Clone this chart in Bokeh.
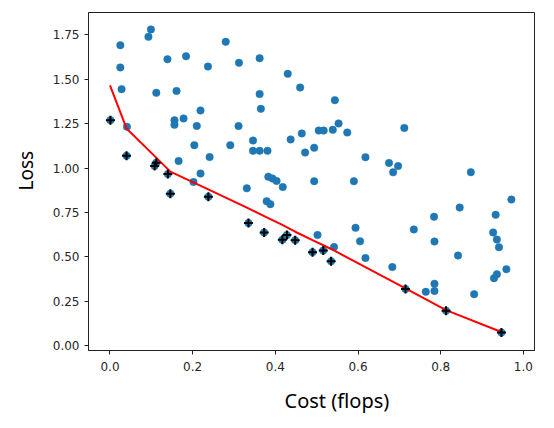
import numpy as np
from bokeh.plotting import figure
from bokeh.models import Range1d, FixedTicker, Title
from bokeh.embed import file_html
from bokeh.resources import INLINE

# all candidate models (cost, loss)
cost = [0.099, 0.093, 0.025, 0.025, 0.028, 0.041, 0.139, 0.184, 0.112, 0.161,
        0.237, 0.280, 0.312, 0.362, 0.430, 0.460, 0.362, 0.365, 0.219, 0.156,
        0.156, 0.178, 0.210, 0.311, 0.204, 0.291, 0.346, 0.346, 0.362, 0.381,
        0.437, 0.464, 0.494, 0.472, 0.241, 0.166, 0.219, 0.202, 0.383, 0.393,
        0.403, 0.418, 0.331, 0.494, 0.544, 0.553, 0.505, 0.517, 0.539, 0.574,
        0.712, 0.618, 0.675, 0.697, 0.685, 0.873, 0.590, 0.379, 0.388, 0.971,
        0.846, 0.933, 0.784, 0.735, 0.594, 0.502, 0.605, 0.785, 0.927, 0.936,
        0.941, 0.542, 0.618, 0.683, 0.842, 0.959, 0.936, 0.929, 0.785, 0.785,
        0.764, 0.881]
loss = [1.780, 1.738, 1.691, 1.566, 1.444, 1.232, 1.612, 1.629, 1.423, 1.434,
        1.571, 1.710, 1.592, 1.618, 1.530, 1.453, 1.416, 1.333, 1.324, 1.269,
        1.243, 1.279, 1.237, 1.236, 1.129, 1.129, 1.155, 1.097, 1.097, 1.097,
        1.161, 1.195, 1.114, 1.087, 1.062, 1.040, 0.969, 0.922, 0.951, 0.941,
        0.928, 0.893, 0.886, 0.926, 1.382, 1.251, 1.211, 1.211, 1.215, 1.200,
        1.226, 1.061, 1.029, 1.011, 0.976, 0.977, 0.926, 0.814, 0.797, 0.823,
        0.778, 0.737, 0.726, 0.655, 0.664, 0.624, 0.588, 0.587, 0.638, 0.598,
        0.555, 0.556, 0.494, 0.443, 0.508, 0.431, 0.403, 0.381, 0.349, 0.309,
        0.304, 0.291]

# pareto-optimal models (marked with a cross)
pareto_cost = [0.001, 0.040, 0.112, 0.108, 0.140, 0.146, 0.238, 0.335, 0.373,
               0.417, 0.428, 0.448, 0.490, 0.516, 0.535, 0.715, 0.813, 0.947]
pareto_loss = [1.269, 1.069, 1.030, 1.012, 0.966, 0.856, 0.839, 0.691, 0.638,
               0.597, 0.623, 0.594, 0.527, 0.536, 0.476, 0.320, 0.198, 0.075]

# fitted frontier (red)
fit_cost = [0.000, 0.040, 0.113, 0.146, 0.239, 0.335, 0.373, 0.417, 0.448,
            0.490, 0.535, 0.715, 0.813, 0.947]
fit_loss = [1.465, 1.223, 1.056, 0.980, 0.879, 0.773, 0.730, 0.680, 0.642,
            0.595, 0.545, 0.323, 0.201, 0.078]

x_ticks = [0.0, 0.2, 0.4, 0.6, 0.8, 1.0]
y_ticks = [0.0, 0.25, 0.5, 0.75, 1.0, 1.25, 1.5, 1.75]

p = figure(width=538, height=424, output_backend="svg", toolbar_location=None,
           x_range=Range1d(-0.052, 1.027), y_range=Range1d(-0.026, 1.875),
           min_border_left=79, min_border_right=4, min_border_top=12,
           min_border_bottom=74)

p.scatter(cost + pareto_cost, loss + pareto_loss, size=7.5, fill_color="#1f77b4",
          line_color="#1f77b4", line_width=0.5)
p.line(fit_cost, fit_loss, line_color="red", line_width=2)
p.scatter(pareto_cost, pareto_loss, marker="cross", size=9, line_color="black",
          line_width=2)

p.grid.visible = False
p.outline_line_color = "#222222"
p.outline_line_width = 1

p.xaxis.ticker = FixedTicker(ticks=x_ticks)
p.yaxis.ticker = FixedTicker(ticks=y_ticks)
p.xaxis.major_label_overrides = {t: "%.1f" % t for t in x_ticks}
p.yaxis.major_label_overrides = {t: "%.2f" % t for t in y_ticks}

for ax in (p.xaxis, p.yaxis):
    ax.minor_tick_line_color = None
    ax.major_tick_in = 0
    ax.major_tick_out = 4
    ax.major_label_standoff = 5
    ax.axis_line_color = "#222222"
    ax.major_tick_line_color = "#222222"
    ax.major_label_text_font = "DejaVu Sans"
    ax.major_label_text_font_size = "12px"
    ax.major_label_text_color = "#262626"
p.xaxis.major_label_standoff = 7

p.add_layout(Title(text="Cost (flops)", align="left", offset=196, standoff=22,
                   text_font="Noto Sans", text_font_size="20px",
                   text_font_style="normal", text_color="black"), "below")
p.add_layout(Title(text="Loss", align="left", offset=160, standoff=21,
                   text_font="Noto Sans", text_font_size="19px",
                   text_font_style="normal", text_color="black"), "left")

open("out.html", "w").write(file_html(p, INLINE))
